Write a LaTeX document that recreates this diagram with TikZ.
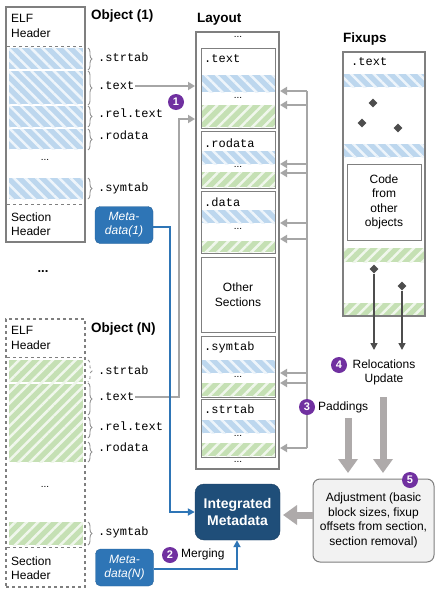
\documentclass[tikz,border=0pt]{standalone}
\usepackage{fontspec}
\setmainfont{Liberation Sans}
\setmonofont{Liberation Mono}
\usetikzlibrary{patterns.meta,arrows.meta,decorations.pathreplacing,shapes.geometric}
\definecolor{bluec}{HTML}{BDD7EE}
\definecolor{greenc}{HTML}{C5E0B4}
\definecolor{purplec}{HTML}{7030A0}
\definecolor{metablue}{HTML}{2E75B6}
\definecolor{navy}{HTML}{1F4E79}
\definecolor{fatgray}{HTML}{AEAAAA}
\definecolor{linegray}{HTML}{A6A6A6}
\definecolor{boxgray}{HTML}{7F7F7F}
\definecolor{dgray}{HTML}{4D4D4D}
\definecolor{adjfill}{HTML}{F2F2F2}
\begin{document}
\begin{tikzpicture}[x=1pt,y=-1pt,
  font=\fontsize{12}{14.5}\selectfont,
  bhatch/.style={fill=bluec, postaction={pattern={Lines[angle=-45,distance=8pt,line width=2.5pt]}, pattern color=white!75!bluec}},
  ghatch/.style={fill=greenc, postaction={pattern={Lines[angle=45,distance=8pt,line width=2.5pt]}, pattern color=white!75!greenc}},
  brc/.style={decorate, decoration={brace, amplitude=4pt}, draw=gray!85, line width=0.9pt},
  lbl/.style={font=\ttfamily\fontsize{12}{14}\selectfont, anchor=west, inner sep=1pt},
  ttl/.style={font=\bfseries\fontsize{13.5}{15}\selectfont, anchor=west, inner sep=0pt},
  pc/.style={circle, fill=purplec, text=white, font=\bfseries\fontsize{11}{11}\selectfont, inner sep=0pt, minimum size=16pt},
  bigbox/.style={draw=boxgray, line width=2pt, inner sep=0pt},
  secbox/.style={draw=boxgray, line width=0.9pt, inner sep=0pt},
  dots/.style={font=\fontsize{10}{10}\selectfont, inner sep=0pt},
  grayline/.style={draw=linegray, line width=2pt},
  grayarrow/.style={draw=linegray, line width=2pt, -{Triangle[width=8pt,length=7pt]}},
  bluearrow/.style={draw=metablue, line width=1.8pt, -{Triangle[width=7pt,length=7pt]}},
  fatarrow/.style={draw=fatgray, line width=7pt, -{Triangle[width=19pt,length=14pt]}},
  darrow/.style={draw=dgray, line width=1.5pt, -{Triangle[width=7pt,length=7pt]}},
  meta/.style={fill=metablue, draw=metablue!85!black, rounded corners=5pt, text=white, font=\itshape\fontsize{12}{14}\selectfont, align=center, minimum width=58pt, minimum height=37pt, inner sep=0pt},
  dia/.style={diamond, fill=dgray, inner sep=0pt, minimum size=9pt}
]
\useasboundingbox (0,0) rectangle (441,594);
\fill[white] (0,0) rectangle (441,594);

% ================= Object (1) =================
\node[ttl] (t1title) at (91,16) {Object (1)};
\path[bhatch] (9,48) rectangle (83,69);
\path[bhatch] (9,71) rectangle (83,104);
\path[bhatch] (9,106) rectangle (83,127);
\path[bhatch] (9,129) rectangle (83,149);
\path[bhatch] (9,178) rectangle (83,199);
\draw[boxgray, dashed, line width=0.9pt] (7,46) -- (84,46);
\draw[boxgray, dashed, line width=0.9pt] (7,204) -- (84,204);
\node[bigbox, minimum width=79pt, minimum height=235pt] (obj1) at (45.5,124.5) {};
\node[anchor=west, align=left, inner sep=0pt] (elf1) at (11,26) {ELF\\Header};
\node[anchor=west, align=left, inner sep=0pt] (sh1) at (11,224) {Section\\Header};
\node[dots] (d1) at (45,160) {...};
\draw[brc] (88,48) -- (88,70);
\draw[brc] (88,71) -- (88,105);
\draw[brc] (88,106) -- (88,127);
\draw[brc] (88,129) -- (88,150);
\draw[brc] (88,178) -- (88,199);
\node[lbl] (s1strtab) at (97,57) {.strtab};
\node[lbl] (s1text) at (97,86) {.text};
\node[lbl] (s1rel) at (97,113) {.rel.text};
\node[lbl] (s1rodata) at (97,135) {.rodata};
\node[lbl] (s1symtab) at (97,188) {.symtab};
\node[meta] (meta1) at (124,225) {Meta-\\data(1)};

% between objects
\node[font=\bfseries\fontsize{13}{13}\selectfont, inner sep=0pt] (between) at (43,272) {...};

% ================= Object (N) =================
\node[ttl] (tNtitle) at (91,329) {Object (N)};
\path[ghatch] (9,360) rectangle (83,382);
\path[ghatch] (9,383.5) rectangle (83,462);
\path[ghatch] (9,522) rectangle (83,545);
\draw[boxgray, dashed, line width=0.9pt] (7,357) -- (84,357);
\draw[boxgray, dashed, line width=0.9pt] (7,547) -- (84,547);
\node[draw=boxgray, dashed, line width=1.6pt, inner sep=0pt, minimum width=79pt, minimum height=268pt] (objN) at (45.5,453) {};
\node[anchor=west, align=left, inner sep=0pt] (elfN) at (11,338) {ELF\\Header};
\node[anchor=west, align=left, inner sep=0pt] (shN) at (11,568) {Section\\Header};
\node[dots] (dN) at (45,487) {...};
\draw[brc, dashed] (88,360) -- (88,382);
\draw[brc] (88,383) -- (88,415);
\draw[brc] (88,417) -- (88,438);
\draw[brc] (88,442) -- (88,462);
\draw[brc] (88,522) -- (88,545);
\node[lbl] (sNstrtab) at (97,370) {.strtab};
\node[lbl] (sNtext) at (97,397) {.text};
\node[lbl] (sNrel) at (97,426) {.rel.text};
\node[lbl] (sNrodata) at (97,447) {.rodata};
\node[lbl] (sNsymtab) at (97,532) {.symtab};
\node[meta] (metaN) at (124.5,567.5) {Meta-\\data(N)};

% ================= Layout =================
\node[ttl] (layouttitle) at (197,19) {Layout};
\path[bhatch] (201,75) rectangle (275,92);
\path[ghatch] (201,105) rectangle (275,127);
\path[bhatch] (201,151) rectangle (275,164);
\path[ghatch] (201,172) rectangle (275,187);
\path[bhatch] (201,210) rectangle (275,223);
\path[ghatch] (201,241) rectangle (275,252);
\path[bhatch] (201,360) rectangle (275,373);
\path[ghatch] (201,383) rectangle (275,396);
\path[bhatch] (201,420) rectangle (275,433);
\path[ghatch] (201,443) rectangle (275,456);
\node[secbox, minimum width=74pt, minimum height=80pt] (ltext) at (238,88) {};
\node[secbox, minimum width=74pt, minimum height=57pt] (lrodata) at (238,159.5) {};
\node[secbox, minimum width=74pt, minimum height=62pt] (ldata) at (238,222) {};
\node[secbox, minimum width=74pt, minimum height=75pt, align=center] (lother) at (238,294.5) {Other\\Sections};
\node[secbox, minimum width=74pt, minimum height=61pt] (lsymtab) at (238,366.5) {};
\node[secbox, minimum width=74pt, minimum height=58pt] (lstrtab) at (238,428) {};
\node[bigbox, minimum width=83pt, minimum height=437pt] (layout) at (237.5,250.5) {};
\node[lbl] (lt1) at (203,59) {.text};
\node[lbl] (lt2) at (203,143) {.rodata};
\node[lbl] (lt3) at (203,202) {.data};
\node[lbl] (lt4) at (203,347) {.symtab};
\node[lbl] (lt5) at (203,409) {.strtab};
\node[dots] (ld0) at (238,37) {...};
\node[dots] (ld1) at (238,98) {...};
\node[dots] (ld2) at (238,167) {...};
\node[dots] (ld3) at (238,229) {...};
\node[dots] (ld4) at (238,377) {...};
\node[dots] (ld5) at (238,436) {...};
\node[dots] (ld6) at (238,462) {...};

% ================= Fixups =================
\node[ttl] (fixtitle) at (343,39) {Fixups};
\path[bhatch] (344,74) rectangle (424,87);
\path[bhatch] (344,144) rectangle (424,157);
\path[ghatch] (344,248) rectangle (424,262);
\path[ghatch] (344,303) rectangle (424,315);
\node[bigbox, minimum width=82pt, minimum height=264pt] (fix) at (384,184) {};
\node[lbl] (ftext) at (350,62) {.text};
\node[secbox, minimum width=74pt, minimum height=76pt, align=center, fill=white] (code) at (384,202) {Code\\from\\other\\objects};
\node[dia] (fd1) at (373,103) {};
\node[dia] (fd2) at (362,123) {};
\node[dia] (fd3) at (398,128) {};
\node[dia] (fd4) at (374,269) {};
\node[dia] (fd5) at (402,286) {};

% ================= Steps =================
\node[align=center, inner sep=0pt] (reloc) at (384,372.5) {Relocations\\Update};
\node[pc] (c4) at (339,365) {4};
\coordinate (r4a) at (374,350);
\coordinate (r4b) at (402,350);
\draw[darrow] (fd4.south) -- (r4a);
\draw[darrow] (fd5.south) -- (r4b);

\node[anchor=west, inner sep=0pt] (pad) at (318,407) {Paddings};

\node[fill=adjfill, draw=boxgray, line width=1pt, rounded corners=7pt, minimum width=121pt, minimum height=83pt, align=center, inner sep=0pt] (adj) at (373.5,520.5)
  {Adjustment (basic\\block sizes, fixup\\offsets from section,\\section removal)};
\node[pc] (c5) at (410,480) {5};

\node[fill=navy, draw=navy!80!black, rounded corners=9pt, minimum width=85pt, minimum height=56pt, align=center, inner sep=0pt, text=white, font=\bfseries\fontsize{14}{17}\selectfont] (integ) at (237.5,512) {Integrated\\Metadata};

% Fat arrows
\coordinate (fa1) at (383,397);
\coordinate (fa2) at (348,418);
\draw[fatarrow] (fa1) -- (fa1 |- 0,473);
\draw[fatarrow] (fa2) -- (fa2 |- 0,473);
\draw[fatarrow] (adj.west |- 0,515) -- (283,515);

% ================= Connectors =================
\draw[grayarrow] (s1text.east) -- (s1text.east -| layout.west);
\coordinate (bendN) at (179,119);
\draw[grayarrow] (sNtext.east) -| (bendN) -- (bendN -| layout.west);
\node[pc] (c1) at (176,102) {1};

\draw[grayline] (307,91) -- (307,448);
\foreach \yy [count=\i] in {91,105,164,173,223,239,373,383,448} {
  \coordinate (rr\i) at (307,\yy);
  \draw[grayarrow] (rr\i) -- (rr\i -| layout.east);
}
\node[pc] (c3) at (307,407) {3};

\coordinate (mb1) at (170,227);
\draw[bluearrow] (meta1.east |- mb1) -- (mb1) |- (integ.west);
\coordinate (mbN) at (237,569);
\draw[bluearrow] (metaN.east |- mbN) -- (mbN) -- (integ.south -| mbN);
\node[pc] (c2) at (170,555) {2};
\node[anchor=west, inner sep=0pt] (merging) at (181,554) {Merging};
\end{tikzpicture}
\end{document}
